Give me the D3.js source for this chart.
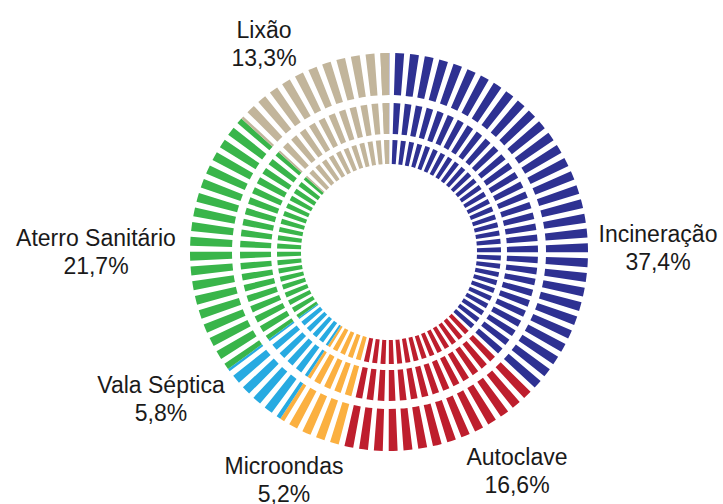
<!DOCTYPE html>
<html>
<head>
<meta charset="utf-8">
<script src="https://cdn.jsdelivr.net/npm/d3@7"></script>
<style>
  html, body { margin: 0; padding: 0; background: #ffffff; }
  svg { display: block; }
  text { font-family: "Liberation Sans", Arial, Helvetica, sans-serif; font-size: 23px; fill: #1a1a1a; }
</style>
</head>
<body>
<svg id="chart" width="723" height="504"></svg>
<script>
// ---- data ----
const categories = ["Incineração", "Autoclave", "Microondas", "Vala Séptica", "Aterro Sanitário", "Lixão"];
const values = [37.4, 16.6, 5.2, 5.8, 21.7, 13.3];
const colors = ["#2e3192", "#be1e2d", "#fbb040", "#27aae1", "#39b54a", "#c2b59b"];

// ---- layout ----
const W = 723, H = 504;
const cx = 389, cy = 252;
const spokeCount = 84;           // number of radial bars around the circle
const barFraction = 0.6;         // share of each step filled by the bar
const barPhase = 0.42;           // offset of bar start inside each step
const rings = [
  { inner: 88, outer: 112 },
  { inner: 118, outer: 149 },
  { inner: 157, outer: 199 }
];
const labelLayout = {
  "Incineração":      { x: 658, y: 242 },
  "Autoclave":        { x: 517, y: 465 },
  "Microondas":       { x: 284, y: 474 },
  "Vala Séptica":     { x: 161, y: 393 },
  "Aterro Sanitário": { x: 96,  y: 246 },
  "Lixão":            { x: 264, y: 38 }
};
const lineGap = 28;

const svg = d3.select("#chart");
const g = svg.append("g").attr("transform", `translate(${cx},${cy})`);

const color = d3.scaleOrdinal().domain(categories).range(colors);
const pie = d3.pie().sort(null).value(d => d.value);
const slices = pie(categories.map((c, i) => ({ name: c, value: values[i] })));

const step = d3.scaleLinear().domain([0, spokeCount]).range([0, 2 * Math.PI]);
const arc = d3.arc();

// build bar pieces: each spoke in each ring, clipped to the category sectors
const pieces = [];
for (let k = -1; k < spokeCount; k++) {
  const a0 = step(k + barPhase);
  const a1 = step(k + barPhase + barFraction);
  rings.forEach(r => {
    slices.forEach(s => {
      // handle wrap-around by also checking the sector shifted by 2π
      [-2 * Math.PI, 0].forEach(shift => {
        const s0 = s.startAngle + shift, s1 = s.endAngle + shift;
        const lo = Math.max(a0, s0), hi = Math.min(a1, s1);
        if (hi > lo + 1e-6) {
          pieces.push({ name: s.data.name, startAngle: lo, endAngle: hi,
                        innerRadius: r.inner, outerRadius: r.outer });
        }
      });
    });
  });
}

g.selectAll("path.bar")
  .data(pieces)
  .join("path")
  .attr("class", "bar")
  .attr("d", d => arc(d))
  .attr("fill", d => color(d.name));

// labels
const fmt = d3.formatLocale({ decimal: ",", thousands: ".", grouping: [3], currency: ["", ""] }).format(".1f");
const lab = svg.append("g");
slices.forEach(s => {
  const L = labelLayout[s.data.name];
  const t = lab.append("text").attr("text-anchor", "middle");
  t.append("tspan").attr("x", L.x).attr("y", L.y).text(s.data.name);
  t.append("tspan").attr("x", L.x).attr("y", L.y + lineGap).text(fmt(s.data.value) + "%");
});
</script>
</body>
</html>
